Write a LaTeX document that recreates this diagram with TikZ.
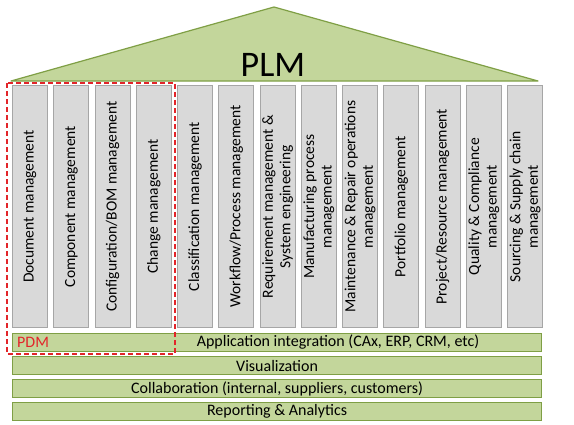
\documentclass[tikz,border=0pt]{standalone}
\usepackage{fontspec}
\setmainfont{Carlito}
\begin{document}
\begin{tikzpicture}[x=1pt,y=-1pt,
  pillar/.style={draw=pillarline,fill=pillarfill,line width=1.2pt,minimum width=35pt,minimum height=242pt,inner sep=0pt,anchor=north west},
  bar/.style={draw=greenline,fill=greenfill,line width=1.2pt,minimum width=529pt,minimum height=18pt,inner sep=0pt,anchor=north west},
  ptext/.style={rotate=90,align=center,font=\fontsize{15.5}{17.5}\selectfont,text=black},
  btext/.style={font=\fontsize{16}{18}\selectfont,text=black,inner sep=0pt},
  pdmbox/.style={draw=pdmred,dashed,dash pattern=on 5pt off 3pt,line width=1.8pt}]
\definecolor{greenfill}{HTML}{C3D69B}
\definecolor{greenline}{HTML}{7F9F45}
\definecolor{pillarfill}{HTML}{D9D9D9}
\definecolor{pillarline}{HTML}{A6A6A6}
\definecolor{pdmred}{HTML}{E2252A}
\useasboundingbox (0,0) rectangle (574,424);
\fill[white] (0,0) rectangle (574,424);
% roof
\coordinate (rl) at (11,81);
\coordinate (ra) at (274,7);
\coordinate (rr) at (538,81);
\draw[draw=greenline,fill=greenfill,line width=1.2pt,line join=round] (rl) -- (ra) -- (rr) -- cycle;
\node[font=\fontsize{36}{40}\selectfont,anchor=base,inner sep=0pt] (plm) at (273,76) {PLM};
% pillars
\foreach \i/\t in {0/{Document management},1/{Component management},2/{Configuration/BOM management},3/{Change management},4/{Classification management},5/{Workflow/Process management},6/{Requirement management \&\\System engineering},7/{Manufacturing process\\management},8/{Maintenance \& Repair operations\\management},9/{Portfolio management},10/{Project/Resource management},11/{Quality \& Compliance\\management},12/{Sourcing \& Supply chain\\management}}{
  \node[pillar] (p\i) at ({12+\i*41.25},85) {};
  \node[ptext] (t\i) at (p\i.center) {\t};
}
% bars
\node[bar] (b1) at (12,333) {};
\node[bar] (b2) at (12,356) {};
\node[bar] (b3) at (12,379) {};
\node[bar] (b4) at (12,402) {};
\node[btext] (b1t) at (338,342) {Application integration (CAx, ERP, CRM, etc)};
\node[btext] (b2t) at (b2.center) {Visualization};
\node[btext] (b3t) at (b3.center) {Collaboration (internal, suppliers, customers)};
\node[btext] (b4t) at (b4.center) {Reporting \& Analytics};
\node[btext,text=pdmred,anchor=west] (pdm) at (17,342) {PDM};
% PDM dashed region
\draw[pdmbox] (7,83) rectangle (175,354);
\end{tikzpicture}
\end{document}
